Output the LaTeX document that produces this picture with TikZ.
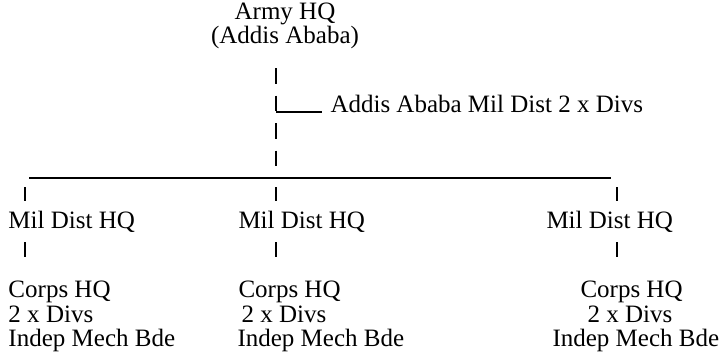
\documentclass[tikz,border=0pt]{standalone}
\usepackage{fontspec}
\setmainfont{Liberation Serif}
\usetikzlibrary{calc,positioning}

\tikzset{
  lbl/.style={inner sep=0pt,anchor=base west,font=\fontsize{10}{12}\selectfont},
  tickline/.style={line width=0.5pt},
  dropline/.style={line width=0.5pt,dash pattern=on 6.2pt off 4.8pt},
}

\begin{document}
\begin{tikzpicture}[x=0.4pt,y=-0.4pt]
		\useasboundingbox (0,0) rectangle (725,355);
		% head of the tree
		\node[lbl,anchor=base] (army) at (285,19) {Army HQ};
		\node[lbl,anchor=base] (addis) at (285,43) {(Addis Ababa)};
		\coordinate (junction) at (276,178);
		\draw[dropline] (276,68) -- (junction);
		\coordinate (stub) at (276,112);
		\node[lbl] (aamd) at (330,112) {Addis Ababa Mil Dist 2 x Divs};
		\draw[tickline] (stub) -- ([xshift=-3.2pt]aamd.base west);
		% the long line
		\coordinate (lineL) at (29,178);
		\coordinate (lineR) at (611,178);
		\draw[tickline] (lineL) -- (lineR);
		% military districts
		\node[lbl] (milL) at (8,228) {Mil Dist HQ};
		\node[lbl] (milM) at (238,228) {Mil Dist HQ};
		\node[lbl] (milR) at (546,228) {Mil Dist HQ};
		\draw[tickline] (25,187) -- (25,201);
		\draw[tickline] (junction) ++(0,9) -- ++(0,14);
		\draw[tickline] (617,187) -- (617,201);
		\draw[tickline] (25,242) -- (25,257);
		\draw[tickline] (276,242) -- (276,257);
		\draw[tickline] (617,242) -- (617,257);
		% corps
		\node[lbl] (corpsL) at (8,297) {Corps HQ};
		\node[lbl] (divsL) at (8,322) {2 x Divs};
		\node[lbl] (bdeL) at (8,346) {Indep Mech Bde};
		\node[lbl] (corpsM) at (238,297) {Corps HQ};
		\node[lbl] (divsM) at (241,322) {2 x Divs};
		\node[lbl] (bdeM) at (237,346) {Indep Mech Bde};
		\node[lbl] (corpsR) at (580,297) {Corps HQ};
		\node[lbl] (divsR) at (587,322) {2 x Divs};
		\node[lbl] (bdeR) at (552,346) {Indep Mech Bde};
\end{tikzpicture}
\end{document}
